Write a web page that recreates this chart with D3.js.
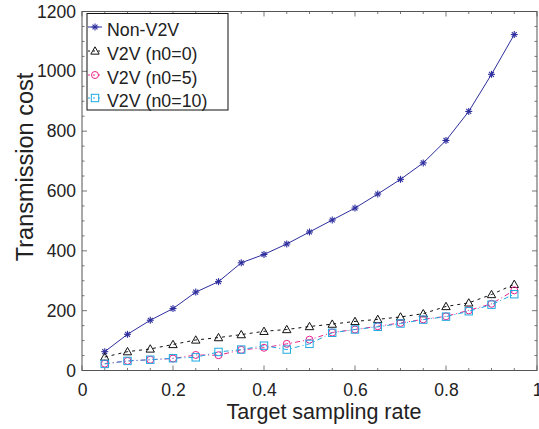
<!DOCTYPE html>
<html>
<head>
<meta charset="utf-8">
<script src="https://cdn.jsdelivr.net/npm/d3@7"></script>
<style>
  html, body { margin: 0; padding: 0; background: #fff; }
  svg { display: block; font-family: "Liberation Sans", Arial, Helvetica, sans-serif; }
</style>
</head>
<body>
<svg id="chart" width="539" height="429"></svg>
<script>
// Target sampling rates
const rates = [0.05, 0.10, 0.15, 0.20, 0.25, 0.30, 0.35, 0.40, 0.45, 0.50,
               0.55, 0.60, 0.65, 0.70, 0.75, 0.80, 0.85, 0.90, 0.95];

// Transmission cost per scheme
const nonV2V = [63, 121, 168, 207, 262, 297, 360, 388, 423, 463,
                503, 543, 590, 639, 694, 769, 866, 990, 1123];
const v2vN0  = [45, 63, 72, 87, 102, 110, 120, 131, 137, 147,
                155, 164, 171, 179, 190, 214, 226, 254, 288];
const v2vN5  = [23, 32, 36, 40, 52, 51, 69, 76, 89, 103,
                127, 137, 148, 159, 171, 181, 201, 223, 268];
const v2vN10 = [22, 32, 36, 41, 44, 62, 70, 83, 70, 89,
                126, 137, 146, 157, 170, 180, 198, 220, 255];

const seriesNames = ["Non-V2V", "V2V (n0=0)", "V2V (n0=5)", "V2V (n0=10)"];

const xTicks = [0, 0.2, 0.4, 0.6, 0.8, 1];
const yTicks = [0, 200, 400, 600, 800, 1000, 1200];

const series = [
  { name: seriesNames[0], values: nonV2V, color: "#2e2e9e", dash: null,        marker: "star" },
  { name: seriesNames[1], values: v2vN0,  color: "#111111", dash: "3,4",       marker: "triangle" },
  { name: seriesNames[2], values: v2vN5,  color: "#e8238c", dash: "5,3,1,3",   marker: "circle" },
  { name: seriesNames[3], values: v2vN10, color: "#1fa9e1", dash: "5,3,1,3",   marker: "square" }
];

const svg = d3.select("#chart");
const m = { left: 82, right: 537, top: 11.5, bottom: 370.5 };

const x = d3.scaleLinear().domain([0, 1]).range([m.left, m.right]);
const y = d3.scaleLinear().domain([0, 1200]).range([m.bottom, m.top]);

const axisColor = "#555";

// Minor ticks on all four sides
const xMinor = d3.range(0, 1.0001, 0.05);
const yMinor = d3.range(0, 1200.1, 50);
const frame = svg.append("g");
xMinor.forEach(v => {
  const len = xTicks.some(t => Math.abs(t - v) < 1e-9) ? 5 : 2.5;
  frame.append("line").attr("x1", x(v)).attr("x2", x(v)).attr("y1", m.bottom).attr("y2", m.bottom - len)
    .attr("stroke", axisColor).attr("stroke-width", 0.8);
  frame.append("line").attr("x1", x(v)).attr("x2", x(v)).attr("y1", m.top).attr("y2", m.top + len)
    .attr("stroke", axisColor).attr("stroke-width", 0.8);
});
yMinor.forEach(v => {
  const len = yTicks.some(t => Math.abs(t - v) < 1e-9) ? 5 : 2.5;
  frame.append("line").attr("y1", y(v)).attr("y2", y(v)).attr("x1", m.left).attr("x2", m.left + len)
    .attr("stroke", axisColor).attr("stroke-width", 0.8);
  frame.append("line").attr("y1", y(v)).attr("y2", y(v)).attr("x1", m.right).attr("x2", m.right - len)
    .attr("stroke", axisColor).attr("stroke-width", 0.8);
});

// Axes with labels
const xAxis = svg.append("g").attr("transform", `translate(0,${m.bottom})`)
  .call(d3.axisBottom(x).tickValues(xTicks).tickSize(0).tickPadding(13).tickFormat(d3.format("~g")));
const yAxis = svg.append("g").attr("transform", `translate(${m.left},0)`)
  .call(d3.axisLeft(y).tickValues(yTicks).tickSize(0).tickPadding(6).tickFormat(d3.format("d")));
[xAxis, yAxis].forEach(a => {
  a.select(".domain").remove();
  a.selectAll("text").attr("font-size", 17.5).attr("fill", "#222")
    .attr("font-family", "'Liberation Sans', Arial, sans-serif");
});

// Plot frame
svg.append("rect").attr("x", m.left).attr("y", m.top)
  .attr("width", m.right - m.left).attr("height", m.bottom - m.top)
  .attr("fill", "none").attr("stroke", axisColor).attr("stroke-width", 1);

// Axis titles
svg.append("text").attr("x", 324).attr("y", 419)
  .attr("text-anchor", "middle").attr("font-size", 21.5).attr("fill", "#222")
  .text("Target sampling rate");
svg.append("text").attr("transform", `translate(33,167) rotate(-90)`)
  .attr("text-anchor", "middle").attr("font-size", 23.5).attr("fill", "#222")
  .text("Transmission cost");

// Marker drawing
function drawMarker(g, type, cx, cy, color) {
  if (type === "star") {
    const r = 3.5;
    [[-r, 0, r, 0], [0, -r, 0, r], [-r * 0.7, -r * 0.7, r * 0.7, r * 0.7], [-r * 0.7, r * 0.7, r * 0.7, -r * 0.7]]
      .forEach(s => g.append("line").attr("x1", cx + s[0]).attr("y1", cy + s[1])
        .attr("x2", cx + s[2]).attr("y2", cy + s[3]).attr("stroke", color).attr("stroke-width", 1.1));
  } else if (type === "triangle") {
    const r = 4.2;
    g.append("path").attr("d", `M${cx},${cy - r} L${cx + r},${cy + r * 0.75} L${cx - r},${cy + r * 0.75} Z`)
      .attr("fill", "none").attr("stroke", color).attr("stroke-width", 1);
  } else if (type === "circle") {
    g.append("circle").attr("cx", cx).attr("cy", cy).attr("r", 3.5)
      .attr("fill", "none").attr("stroke", color).attr("stroke-width", 1);
  } else if (type === "square") {
    g.append("rect").attr("x", cx - 3.7).attr("y", cy - 3.7).attr("width", 7.4).attr("height", 7.4)
      .attr("fill", "none").attr("stroke", color).attr("stroke-width", 1);
  }
}

const line = d3.line().x((d, i) => x(rates[i])).y(d => y(d));
const plot = svg.append("g");
series.forEach(s => {
  plot.append("path").datum(s.values).attr("d", line)
    .attr("fill", "none").attr("stroke", s.color).attr("stroke-width", 1)
    .attr("stroke-dasharray", s.dash);
  const mg = plot.append("g");
  s.values.forEach((v, i) => drawMarker(mg, s.marker, x(rates[i]), y(v), s.color));
});

// Legend
const lg = svg.append("g");
lg.append("rect").attr("x", 87).attr("y", 13.5).attr("width", 141).attr("height", 96.5)
  .attr("fill", "#fff").attr("stroke", "#111").attr("stroke-width", 1);
const rowBase = [36, 60, 84, 107];
series.forEach((s, i) => {
  const yy = rowBase[i] - 9;
  lg.append("line").attr("x1", 88).attr("x2", 102).attr("y1", yy).attr("y2", yy)
    .attr("stroke", s.color).attr("stroke-width", 1).attr("stroke-dasharray", s.dash ? "2,3" : null);
  drawMarker(lg, s.marker, 95, yy, s.color);
  lg.append("text").attr("x", 107).attr("y", rowBase[i]).attr("font-size", 17.8).attr("fill", "#222")
    .text(s.name);
});
</script>
</body>
</html>
